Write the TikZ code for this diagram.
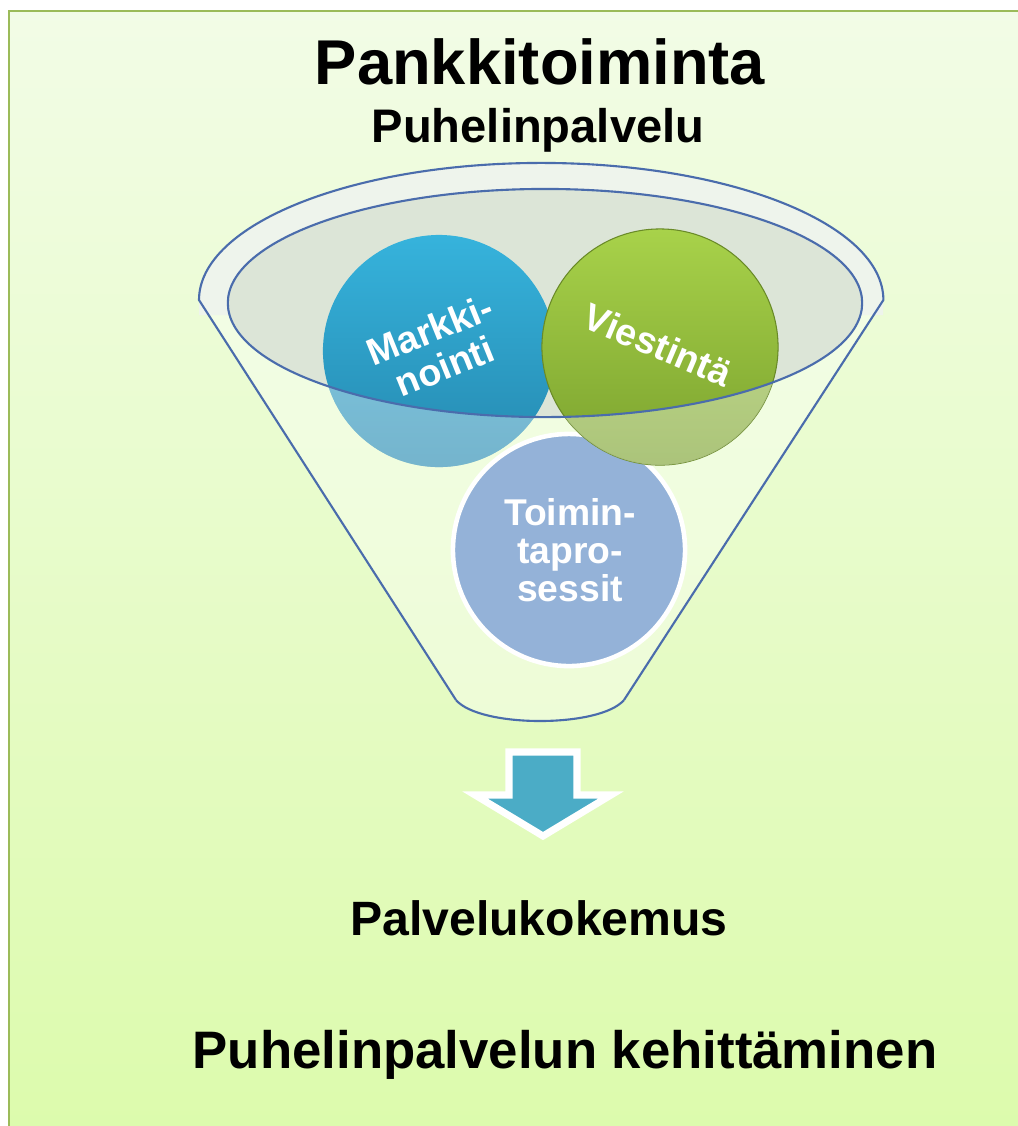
\documentclass[tikz,border=0pt]{standalone}
\usepackage{fontspec}
\setmainfont{Liberation Sans}

\definecolor{bgtop}{HTML}{F2FCE6}
\definecolor{bgbottom}{HTML}{DCFBAC}
\definecolor{framegreen}{HTML}{9BBB59}
\definecolor{funnelline}{HTML}{4A6CAC}
\definecolor{rimfill}{HTML}{EEF4EC}
\definecolor{mouthfill}{HTML}{DCE5D7}
\definecolor{markhi}{HTML}{36B3DC}
\definecolor{marklo}{HTML}{2589B0}
\definecolor{viesthi}{HTML}{A8D24A}
\definecolor{viestlo}{HTML}{7BA22E}
\definecolor{toimfill}{HTML}{94B2D8}
\definecolor{arrowfill}{HTML}{4BACC6}

\tikzstyle{title} = [font=\bfseries\fontsize{18}{22}\selectfont, inner sep=0pt, anchor=base]
\tikzstyle{subtitle} = [font=\bfseries\fontsize{13.4}{16}\selectfont, inner sep=0pt, anchor=base]
\tikzstyle{result} = [font=\bfseries\fontsize{13.7}{16}\selectfont, inner sep=0pt, anchor=base]
\tikzstyle{goal} = [font=\bfseries\fontsize{15}{18}\selectfont, inner sep=0pt, anchor=base]
\tikzstyle{ball} = [circle, inner sep=0pt]
\tikzstyle{balltext} = [text=white, align=center, inner sep=0pt, font=\bfseries\fontsize{10.7}{11.2}\selectfont]
\tikzstyle{funnel} = [draw=funnelline, line width=0.6pt]
\tikzstyle{pale} = [white, fill opacity=0.37, even odd rule]

\begin{document}
\begin{tikzpicture}[x=0.01cm, y=-0.01cm]
\useasboundingbox (0,0) rectangle (1018,1126);
\fill[white] (0,0) rectangle (1018,1126);
\shade[top color=bgtop, bottom color=bgbottom] (9,11) rectangle (1030,1140);
\draw[framegreen, line width=0.7pt] (1030,11) -- (9,11) -- (9,1140);

\node (title) [title] at (540,84) {Pankkitoiminta};
\node (sub) [subtitle] at (538,142) {Puhelinpalvelu};

% funnel
\fill[white, fill opacity=0.35] (199,300) -- (456,700) .. controls (480,728) and (600,728) .. (624,700) -- (883,300) arc[start angle=0, end angle=180, x radius=3.42cm, y radius=1.37cm];
\fill[rimfill] (199,300) arc[start angle=180, end angle=0, x radius=3.42cm, y radius=1.37cm] -- (883,315) -- (199,315) -- cycle;
\fill[mouthfill] (545,303) ellipse [x radius=3.17cm, y radius=1.14cm];

\node (toim) [ball, fill=toimfill, draw=white, line width=1.3pt, minimum size=2.32cm] at (569,550) {};
\node (mark) [ball, top color=markhi, bottom color=marklo, minimum size=2.32cm] at (439,351) {};
\node (viest) [ball, top color=viesthi, bottom color=viestlo, draw=viestlo!85!black, line width=0.3pt, minimum size=2.36cm] at (660,347) {};

\begin{scope}
\clip (439,351) circle [radius=1.16cm];
\fill[pale] (0,0) rectangle (1018,1126) (545,303) ellipse [x radius=3.17cm, y radius=1.14cm];
\end{scope}
\begin{scope}
\clip (660,347) circle [radius=1.18cm];
\fill[pale] (0,0) rectangle (1018,1126) (545,303) ellipse [x radius=3.17cm, y radius=1.14cm];
\end{scope}

\draw[funnel] (456,700) -- (199,300) arc[start angle=180, end angle=0, x radius=3.42cm, y radius=1.37cm] -- (624,700);
\draw[funnel] (456,700) .. controls (480,728) and (600,728) .. (624,700);
\draw[funnel] (545,303) ellipse [x radius=3.17cm, y radius=1.14cm];

\node (marktext) [balltext, rotate=22] at (437,348) {Markki-\\nointi};
\node (viesttext) [balltext, rotate=-23] at (658,345) {Viestintä};
\node (toimtext) [balltext, font=\bfseries\fontsize{10.6}{10.9}\selectfont] at (570,550) {Toimin-\\tapro-\\sessit};

% arrow
\draw[white, line width=2pt, fill=arrowfill, miter limit=10] (509,752) -- (577,752) -- (577,795) -- (611,795) -- (543,836) -- (475,795) -- (509,795) -- cycle;

\node (result) [result] at (539,935) {Palvelukokemus};
\node (goal) [goal] at (565,1068) {Puhelinpalvelun kehittäminen};
\end{tikzpicture}
\end{document}
